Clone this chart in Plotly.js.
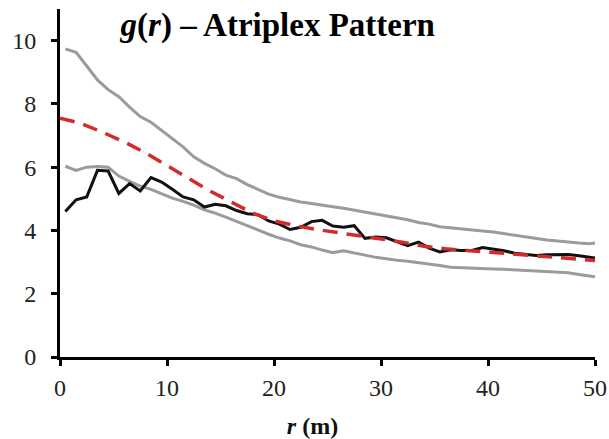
<!DOCTYPE html>
<html>
<head>
<meta charset="utf-8">
<script src="https://cdn.plot.ly/plotly-3.0.1.min.js"></script>
<style>html,body{margin:0;padding:0;background:#fff;}#chart{width:609px;height:439px;}</style>
</head>
<body>
<div id="chart"></div>
<script>
// distance r (m)
const rValues = [0.5,1.5,2.5,3.5,4.5,5.5,6.5,7.5,8.5,9.5,10.5,11.5,12.5,13.5,14.5,15.5,16.5,17.5,18.5,19.5,20.5,21.5,22.5,23.5,24.5,25.5,26.5,27.5,28.5,29.5,30.5,31.5,32.5,33.5,34.5,35.5,36.5,37.5,38.5,39.5,40.5,41.5,42.5,43.5,44.5,45.5,46.5,47.5,48.5,49.5,50];
// observed g(r)
const observed = [4.6,4.97,5.06,5.9,5.88,5.17,5.48,5.25,5.67,5.53,5.3,5.06,4.97,4.74,4.83,4.78,4.63,4.53,4.5,4.3,4.2,4.03,4.1,4.28,4.32,4.14,4.1,4.15,3.75,3.79,3.77,3.65,3.52,3.63,3.44,3.32,3.39,3.37,3.37,3.46,3.42,3.36,3.28,3.24,3.21,3.23,3.24,3.24,3.2,3.15,3.13];
// upper envelope
const upperEnv = [9.74,9.63,9.2,8.76,8.45,8.23,7.9,7.6,7.42,7.15,6.88,6.64,6.33,6.12,5.95,5.75,5.64,5.45,5.3,5.15,5.05,4.97,4.9,4.85,4.79,4.75,4.7,4.64,4.58,4.52,4.47,4.4,4.34,4.25,4.2,4.12,4.08,4.05,4.02,3.98,3.95,3.9,3.83,3.79,3.75,3.7,3.67,3.63,3.6,3.58,3.6];
// lower envelope
const lowerEnv = [6.03,5.9,6.0,6.02,6.0,5.72,5.55,5.4,5.3,5.17,5.02,4.92,4.8,4.65,4.55,4.42,4.28,4.15,4.0,3.88,3.76,3.67,3.55,3.48,3.38,3.3,3.36,3.3,3.22,3.15,3.1,3.06,3.03,2.99,2.94,2.89,2.84,2.82,2.8,2.78,2.78,2.77,2.75,2.74,2.73,2.71,2.69,2.66,2.61,2.56,2.54];
// expected g(r) (dashed)
const rExpected = [0,2,4,6,8,10,12,14,16,18,20,22,24,26,28,30,32,34,36,38,40,42,44,46,48,50];
const expected = [7.55,7.38,7.1,6.8,6.45,6.05,5.65,5.25,4.9,4.55,4.3,4.15,4.03,3.93,3.83,3.73,3.63,3.5,3.42,3.37,3.32,3.27,3.22,3.16,3.1,3.05];

const xTicks = [0,10,20,30,40,50];
const yTicks = [0,2,4,6,8,10];

const serif = "Liberation Serif";

const traces = [
  {x: rValues, y: upperEnv, mode: 'lines', line: {color: '#9b9b9b', width: 3}, name: 'Upper envelope'},
  {x: rValues, y: lowerEnv, mode: 'lines', line: {color: '#9b9b9b', width: 3}, name: 'Lower envelope'},
  {x: rValues, y: observed, mode: 'lines', line: {color: '#111111', width: 3}, name: 'Observed'},
  {x: rExpected, y: expected, mode: 'lines', line: {color: '#d42a2a', width: 3.5, dash: '15px,9px'}, name: 'Expected'}
];

const layout = {
  width: 609, height: 439,
  margin: {l: 60, r: 14, t: 9, b: 82},
  paper_bgcolor: '#ffffff', plot_bgcolor: '#ffffff',
  showlegend: false,
  font: {family: serif, color: '#222222'},
  title: {
    text: '<i>g</i>(<i>r</i>) – Atriplex Pattern',
    font: {family: serif, size: 33, color: '#000000', weight: 'bold'},
    x: 0.407, xanchor: 'center', xref: 'paper',
    y: 0.945, yanchor: 'middle', yref: 'container'
  },
  xaxis: {
    range: [0, 50], tickvals: xTicks, ticktext: xTicks.map(String),
    showgrid: false, zeroline: false,
    showline: true, linecolor: '#000', linewidth: 3,
    ticks: 'outside', ticklen: 6, tickwidth: 3, tickcolor: '#000',
    tickfont: {family: serif, size: 24, color: '#222'},
    ticklabelstandoff: 1,
    title: {text: '<b><i>r</i> (m)</b>&nbsp;&nbsp;&nbsp;&nbsp;&nbsp;', font: {family: serif, size: 24, color: '#111'}, standoff: 20}
  },
  yaxis: {
    range: [0, 11], tickvals: yTicks, ticktext: yTicks.map(String),
    showgrid: false, zeroline: false,
    showline: true, linecolor: '#000', linewidth: 3,
    ticks: 'outside', ticklen: 6, tickwidth: 3, tickcolor: '#000',
    tickfont: {family: serif, size: 24, color: '#222'},
    ticklabelstandoff: 10
  }
};

Plotly.newPlot('chart', traces, layout, {displayModeBar: false, staticPlot: true});
</script>
</body>
</html>
